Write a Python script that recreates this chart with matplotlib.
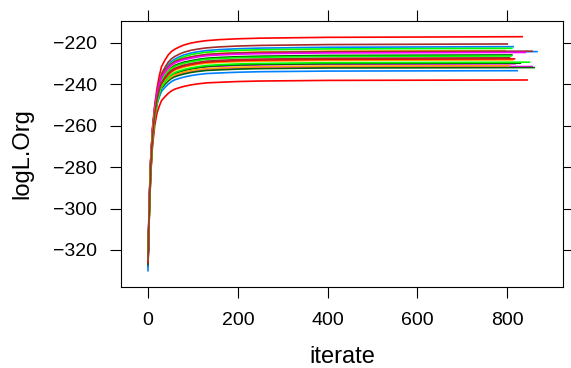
import numpy as np
import matplotlib
matplotlib.use('Agg')
import matplotlib.pyplot as plt

plt.rcParams['font.family'] = ['Liberation Sans', 'DejaVu Sans']

# iterate positions where each run's log-likelihood was read (last value of a run = its length)
iterate_pts = [0, 3, 6, 10, 15, 20, 25, 30, 38, 45, 52, 60, 70, 80, 95, 110, 130, 160, 200, 250, 400]
run_ends = [813, 817, 810, 833, 795, 810, 800, 866, 855, 829, 844,
            812, 808, 855, 822, 840, 860, 816, 805, 849, 805]

logL = [
    [-324, -301.8, -281.8, -265.8, -254.8, -246.8, -240.8, -236.3, -233.0, -230.6, -229.0, -227.8, -226.7, -225.8, -224.9, -224.3, -223.7, -223.2, -222.8, -222.5, -222.1, -221.8],
    [-323, -294.1, -276.1, -262.1, -252.1, -246.1, -242.8, -240.1, -238.1, -236.6, -235.4, -234.5, -233.8, -233.2, -232.5, -232.0, -231.5, -231.2, -230.85, -230.6, -230.3, -230.1],
    [-325, -297.8, -278.8, -263.8, -252.8, -245.8, -241.3, -237.8, -235.2, -233.3, -231.9, -230.8, -230.0, -229.3, -228.6, -228.0, -227.4, -227.0, -226.65, -226.4, -226.05, -225.8],
    [-325, -297.0, -277.0, -261.0, -250.0, -242.0, -236.0, -231.5, -228.2, -225.8, -224.2, -223.0, -221.9, -221.0, -220.1, -219.5, -218.9, -218.4, -218.0, -217.7, -217.3, -217.0],
    [-326, -303.7, -283.7, -267.7, -256.7, -248.7, -242.7, -238.2, -234.9, -232.5, -230.9, -229.7, -228.6, -227.7, -226.8, -226.2, -225.6, -225.1, -224.7, -224.4, -224.0, -223.7],
    [-324, -302.6, -282.6, -266.6, -255.6, -247.6, -241.6, -237.1, -233.8, -231.4, -229.8, -228.6, -227.5, -226.6, -225.7, -225.1, -224.5, -224.0, -223.6, -223.3, -222.9, -222.6],
    [-325, -300.5, -280.5, -264.5, -253.5, -245.5, -239.5, -235.0, -231.7, -229.3, -227.7, -226.5, -225.4, -224.5, -223.6, -223.0, -222.4, -221.9, -221.5, -221.2, -220.8, -220.5],
    [-327, -296.2, -277.2, -262.2, -251.2, -244.2, -239.7, -236.2, -233.6, -231.7, -230.3, -229.2, -228.4, -227.7, -227.0, -226.4, -225.8, -225.4, -225.05, -224.8, -224.45, -224.2],
    [-322, -295.4, -277.4, -263.4, -253.4, -247.4, -244.1, -241.4, -239.4, -237.9, -236.7, -235.8, -235.1, -234.5, -233.8, -233.3, -232.8, -232.5, -232.15, -231.9, -231.6, -231.4],
    [-326, -301.8, -282.8, -267.8, -256.8, -249.8, -245.3, -241.8, -239.2, -237.3, -235.9, -234.8, -234.0, -233.3, -232.6, -232.0, -231.4, -231.0, -230.65, -230.4, -230.05, -229.8],
    [-328, -301.9, -283.9, -269.9, -259.9, -253.9, -250.6, -247.9, -245.9, -244.4, -243.2, -242.3, -241.6, -241.0, -240.3, -239.8, -239.3, -239.0, -238.65, -238.4, -238.1, -237.9],
    [-325, -300.2, -281.2, -266.2, -255.2, -248.2, -243.7, -240.2, -237.6, -235.7, -234.3, -233.2, -232.4, -231.7, -231.0, -230.4, -229.8, -229.4, -229.05, -228.8, -228.45, -228.2],
    [-324, -298.3, -279.3, -264.3, -253.3, -246.3, -241.8, -238.3, -235.7, -233.8, -232.4, -231.3, -230.5, -229.8, -229.1, -228.5, -227.9, -227.5, -227.15, -226.9, -226.55, -226.3],
    [-326, -296.0, -277.0, -262.0, -251.0, -244.0, -239.5, -236.0, -233.4, -231.5, -230.1, -229.0, -228.2, -227.5, -226.8, -226.2, -225.6, -225.2, -224.85, -224.6, -224.25, -224.0],
    [-330, -297.4, -279.4, -265.4, -255.4, -249.4, -246.1, -243.4, -241.4, -239.9, -238.7, -237.8, -237.1, -236.5, -235.8, -235.3, -234.8, -234.5, -234.15, -233.9, -233.6, -233.4],
    [-323, -296.6, -277.6, -262.6, -251.6, -244.6, -240.1, -236.6, -234.0, -232.1, -230.7, -229.6, -228.8, -228.1, -227.4, -226.8, -226.2, -225.8, -225.45, -225.2, -224.85, -224.6],
    [-327, -295.9, -277.9, -263.9, -253.9, -247.9, -244.6, -241.9, -239.9, -238.4, -237.2, -236.3, -235.6, -235.0, -234.3, -233.8, -233.3, -233.0, -232.65, -232.4, -232.1, -231.9],
    [-326, -299.7, -280.7, -265.7, -254.7, -247.7, -243.2, -239.7, -237.1, -235.2, -233.8, -232.7, -231.9, -231.2, -230.5, -229.9, -229.3, -228.9, -228.55, -228.3, -227.95, -227.7],
    [-325, -295.0, -277.0, -263.0, -253.0, -247.0, -243.7, -241.0, -239.0, -237.5, -236.3, -235.4, -234.7, -234.1, -233.4, -232.9, -232.4, -232.1, -231.75, -231.5, -231.2, -231.0],
    [-324, -301.3, -282.3, -267.3, -256.3, -249.3, -244.8, -241.3, -238.7, -236.8, -235.4, -234.3, -233.5, -232.8, -232.1, -231.5, -230.9, -230.5, -230.15, -229.9, -229.55, -229.3],
    [-325, -299.2, -280.2, -265.2, -254.2, -247.2, -242.7, -239.2, -236.6, -234.7, -233.3, -232.2, -231.4, -230.7, -230.0, -229.4, -228.8, -228.4, -228.05, -227.8, -227.45, -227.2],
]

# lattice superpose.line colours
cols = ['#0080ff', '#ff00ff', 'darkgreen', '#ff0000', 'orange', '#00ff00', 'brown']

fig = plt.figure(figsize=(5.71, 3.68), dpi=100)
ax = fig.add_axes([0.212, 0.22, 0.774, 0.723])

for i, (vals, end) in enumerate(zip(logL, run_ends)):
    x = iterate_pts + [end]
    ax.plot(x, vals, color=cols[i % len(cols)], lw=1.2)

ax.set_xlim(-60, 924)
ax.set_ylim(-337.9, -209.4)
ax.set_xticks([0, 200, 400, 600, 800])
ax.set_yticks([-320, -300, -280, -260, -240, -220])
ax.set_yticklabels(['\u2212320', '\u2212300', '\u2212280', '\u2212260', '\u2212240', '\u2212220'])
ax.tick_params(direction='out', length=8, width=0.8, labelsize=14, pad=9,
               top=True, right=True, labeltop=False, labelright=False)
ax.tick_params(axis='x', pad=10)
for s in ax.spines.values():
    s.set_linewidth(0.8)

ax.set_xlabel('iterate', fontsize=17, labelpad=12)
ax.set_ylabel('logL.Org', fontsize=17, labelpad=14)

plt.savefig('out.png', dpi=100)
